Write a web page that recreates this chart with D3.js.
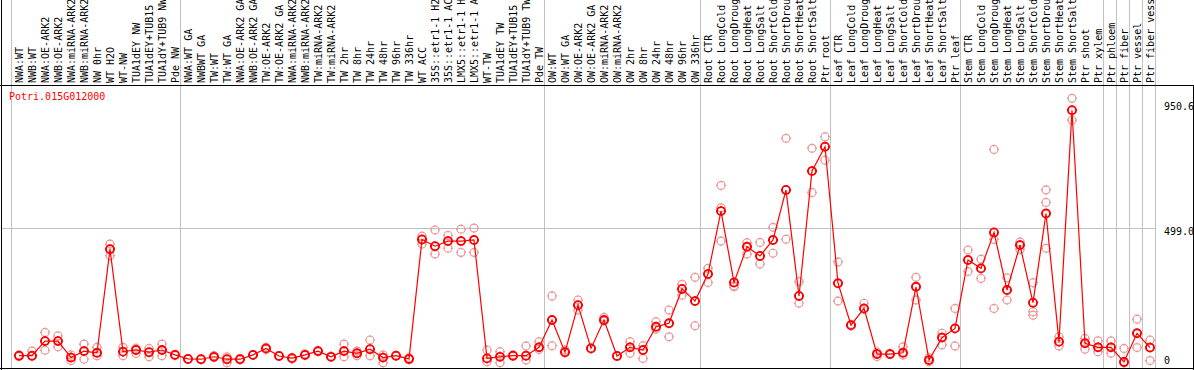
<!DOCTYPE html>
<html lang="en">
<head>
  <meta charset="UTF-8">
  <title>Potri.015G012000</title>
  <script src="https://d3js.org/d3.v7.min.js"></script>
  <style>
    body { margin: 0; background: #fff; }
    svg { display: block; }
    text { font-family: "DejaVu Sans Mono", monospace; font-size: 10px; }
  </style>
</head>
<body>
  <svg width="1194" height="370"></svg>

  <script>
    // sample names (as truncated on the chart)
    const labels = [
      "NWA:WT", "NWB:WT", "NWA:OE-ARK2", "NWB:OE-ARK2", "NWA:miRNA-ARK2", "NWB:miRNA-ARK2",
      "NW 0hr", "WT H2O", "WT-NW", "TUA1dEY NW", "TUA1dEY+TUB15", "TUA1dY+TUB9 NW", "Pde NW",
      "NWA:WT GA", "NWBWT GA", "TW:WT", "TW:WT GA", "NWA:OE-ARK2 GA", "NWB:OE-ARK2 GA",
      "TW:OE-ARK2", "TW:OE-ARK2 GA", "NWA:miRNA-ARK2", "NWB:miRNA-ARK2", "TW:miRNA-ARK2",
      "TW:miRNA-ARK2", "TW 2hr", "TW 8hr", "TW 24hr", "TW 48hr", "TW 96hr", "TW 336hr", "WT ACC",
      "35S::etr1-1 H2", "35S::etr1-1 AC", "LMX5::etr1-1 H", "LMX5::etr1-1 A", "WT-TW",
      "TUA1dEY TW", "TUA1dEY+TUB15", "TUA1dY+TUB9 TW", "Pde TW",
      "OW:WT", "OW:WT GA", "OW:OE-ARK2", "OW:OE-ARK2 GA", "OW:miRNA-ARK2", "OW:miRNA-ARK2",
      "OW 2hr", "OW 8hr", "OW 24hr", "OW 48hr", "OW 96hr", "OW 336hr",
      "Root CTR", "Root LongCold", "Root LongDroug", "Root LongHeat", "Root LongSalt",
      "Root ShortCold", "Root ShortDrou", "Root ShortHeat", "Root ShortSalt", "Ptr root",
      "Leaf CTR", "Leaf LongCold", "Leaf LongDroug", "Leaf LongHeat", "Leaf LongSalt",
      "Leaf ShortCold", "Leaf ShortDrou", "Leaf ShortHeat", "Leaf ShortSalt", "Ptr leaf",
      "Stem CTR", "Stem LongCold", "Stem LongDroug", "Stem LongHeat", "Stem LongSalt",
      "Stem ShortCold", "Stem ShortDrou", "Stem ShortHeat", "Stem ShortSalt", "Ptr shoot",
      "Ptr xylem", "Ptr phloem", "Ptr fiber", "Ptr vessel", "Ptr fiber vess"
    ];

    // number of samples in each separated group
    const groupSizes = [13, 28, 12, 10, 10, 11, 1, 1, 1, 1];

    // mean expression per sample
    const means = [
      27, 27, 81, 81, 20, 44, 38, 421, 42, 48, 40, 48, 30,
      15, 14, 23, 14, 14, 30, 54, 26, 18, 30, 44, 23, 44, 36, 51, 20, 27, 15,
      457, 432, 451, 451, 455, 17, 23, 27, 27, 58,
      159, 40, 214, 54, 159, 26, 58, 48, 134, 147, 274, 229,
      329, 562, 298, 430, 396, 455, 640, 248, 710, 800,
      295, 140, 202, 33, 33, 38, 282, 11, 94, 128,
      381, 350, 483, 270, 436, 223, 553, 79, 935, 73, 58,
      58, 4, 110, 57
    ];

    // replicate values per sample
    const replicates = [
      [24, 27, 30], [44, 27, 25], [113, 81, 47], [100, 81, 60], [30, 20, 9], [70, 44, 14],
      [58, 38, 27], [440, 421, 397], [58, 42, 27], [55, 48, 36], [54, 40, 23], [70, 48, 27], [32, 30, 28],
      [15, 15, 14], [14, 14, 14], [27, 23, 20], [23, 14, 1], [17, 14, 12], [30, 30, 30], [58, 54, 50],
      [26, 26, 26], [20, 18, 15], [34, 30, 28], [46, 44, 42], [23, 23, 23], [70, 44, 23], [44, 36, 27],
      [85, 51, 27], [30, 20, 1], [27, 27, 27], [20, 15, 12],
      [469, 457, 440], [492, 432, 403], [472, 451, 424], [495, 451, 409], [499, 455, 409],
      [48, 17, 5], [42, 23, 1], [30, 27, 25], [63, 27, 11], [79, 58, 50],
      [248, 159, 64], [48, 40, 38], [233, 214, 196], [54, 54, 54], [169, 159, 155], [26, 26, 26],
      [79, 58, 36], [64, 48, 17], [153, 134, 125], [196, 147, 97], [291, 274, 251], [317, 229, 138],
      [350, 329, 298], [657, 574, 451], [298, 282, 285], [445, 430, 403], [446, 396, 366],
      [502, 455, 406], [831, 640, 458], [301, 248, 221], [794, 710, 631], [837, 800, 750],
      [374, 295, 229], [140, 138, 142], [221, 202, 200], [40, 33, 24], [35, 33, 31], [60, 38, 30],
      [317, 282, 233], [20, 11, 5], [110, 94, 67], [202, 128, 63],
      [418, 381, 338], [384, 350, 313], [790, 457, 202], [315, 270, 233], [448, 436, 420],
      [297, 190, 177], [640, 594, 424], [97, 79, 63], [979, 935, 898], [91, 73, 51], [82, 58, 42],
      [82, 58, 36], [54, 5, 0], [162, 110, 57], [85, 57, 9]
    ];

    const geneName = "Potri.015G012000";
    const yTicks = [0, 499.0, 950.6];

    const svg = d3.select("svg"),
          plotTop = 85, plotBottom = 368;

    const x = d3.scaleBand()
                .domain(d3.range(labels.length))
                .range([11.5, 1155.5]);

    const y = d3.scaleLinear()
                .domain([0, 950.6])
                .range([363, 106]);

    const cx = i => x(i) + x.bandwidth() / 2 + 1;

    // group separators
    const edges = [0];
    groupSizes.forEach(s => edges.push(edges[edges.length - 1] + s));

    svg.selectAll(".vgrid")
      .data(edges)
      .enter().append("line")
        .attr("x1", d => Math.floor(d < labels.length ? x(d) : x(labels.length - 1) + x.bandwidth()) + 0.5)
        .attr("x2", d => Math.floor(d < labels.length ? x(d) : x(labels.length - 1) + x.bandwidth()) + 0.5)
        .attr("y1", 0)
        .attr("y2", plotBottom)
        .attr("stroke", "#c0c0c0")
        .attr("shape-rendering", "crispEdges");

    // horizontal grid at middle tick
    svg.append("line")
      .attr("x1", 1).attr("x2", 1155)
      .attr("y1", Math.round(y(yTicks[1])) + 0.5)
      .attr("y2", Math.round(y(yTicks[1])) + 0.5)
      .attr("stroke", "#c0c0c0")
      .attr("shape-rendering", "crispEdges");

    // frame
    svg.append("line")
      .attr("x1", 0).attr("x2", 1194).attr("y1", plotTop + 0.5).attr("y2", plotTop + 0.5)
      .attr("stroke", "#000").attr("shape-rendering", "crispEdges");
    svg.append("line")
      .attr("x1", 0).attr("x2", 1194).attr("y1", plotBottom + 0.5).attr("y2", plotBottom + 0.5)
      .attr("stroke", "#000").attr("shape-rendering", "crispEdges");
    svg.append("line")
      .attr("x1", 1.5).attr("x2", 1.5).attr("y1", 0).attr("y2", 370)
      .attr("stroke", "#000").attr("shape-rendering", "crispEdges");
    svg.append("line")
      .attr("x1", 1193.5).attr("x2", 1193.5).attr("y1", plotTop).attr("y2", 370)
      .attr("stroke", "#000").attr("shape-rendering", "crispEdges");

    // sample labels, vertical
    svg.selectAll(".lab")
      .data(labels)
      .enter().append("text")
        .attr("transform", (d, i) => `translate(${cx(i) + 3.5},${plotTop - 2}) rotate(-90)`)
        .attr("fill", "#000")
        .text(d => d);

    // value labels on the right
    const tickDy = [-2, 4, 1];
    svg.selectAll(".ytick")
      .data(yTicks)
      .enter().append("text")
        .attr("x", 1164)
        .attr("y", (d, i) => y(d) + tickDy[i])
        .attr("dominant-baseline", "middle")
        .attr("fill", "#000")
        .text(d => d === 0 ? "0" : d.toFixed(1));

    // gene name
    svg.append("text")
      .attr("x", 9)
      .attr("y", 100)
      .attr("fill", "#ff0000")
      .text(geneName);

    const marker = (px, py, r) =>
      `M${px + r},${py}A${r},${r} 0 1,1 ${px - r},${py}A${r},${r} 0 1,1 ${px + r},${py}` +
      `M${px},${py - r - 1}v2M${px},${py + r - 1}v2M${px - r - 1},${py}h2M${px + r - 1},${py}h2`;

    // replicates
    const repPts = [];
    replicates.forEach((vals, i) => vals.forEach(v => repPts.push([i, v])));
    svg.selectAll(".rep")
      .data(repPts)
      .enter().append("path")
        .attr("d", d => marker(cx(d[0]), y(d[1]), 4))
        .attr("fill", "none")
        .attr("stroke", "#ec9a9a")
        .attr("stroke-width", 1.2);

    // mean line
    svg.append("path")
      .datum(means)
      .attr("d", d3.line().x((d, i) => cx(i)).y(d => y(d)))
      .attr("fill", "none")
      .attr("stroke", "#ff0000")
      .attr("stroke-width", 1.2);

    svg.selectAll(".mean")
      .data(means)
      .enter().append("path")
        .attr("d", (d, i) => marker(cx(i), y(d), 4))
        .attr("fill", "none")
        .attr("stroke", "#ff0000")
        .attr("stroke-width", 1.8);
  </script>
</body>
</html>
